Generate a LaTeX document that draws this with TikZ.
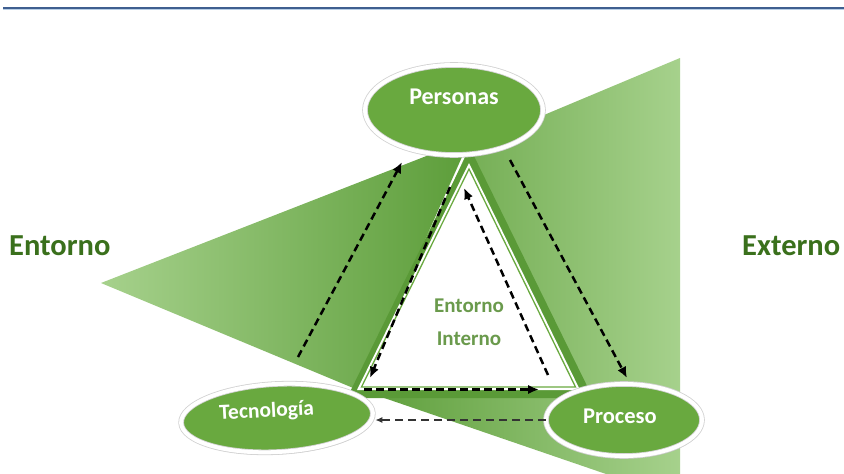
\documentclass[tikz,border=0pt]{standalone}
\usepackage{fontspec}
\setmainfont{Carlito}
\usetikzlibrary{arrows.meta,shapes.geometric,shadows}
\definecolor{fanlight}{HTML}{A6D18C}
\definecolor{fandark}{HTML}{5C9D39}
\definecolor{bandgreen}{HTML}{5A9A37}
\definecolor{ellgreen}{HTML}{69A93F}
\definecolor{outtext}{HTML}{3A701C}
\definecolor{intext}{HTML}{6A9A4C}
\definecolor{topblue}{HTML}{3F5F90}
\definecolor{topblue2}{HTML}{B9CFE6}
\tikzset{
  ellnode/.style={ellipse, draw=black!18, line width=0.8pt, double=white,
    double distance=4pt, fill=ellgreen, text=white, inner sep=0pt,
    drop shadow={shadow xshift=1pt, shadow yshift=-2.5pt, opacity=0.3, fill=black!60}},
  dasharrow/.style={line width=2.5pt, dash pattern=on 7.5pt off 4.5pt,
    -{Latex[length=11pt,width=9.5pt]}},
  thinarrow/.style={line width=1.5pt, draw=black!80, dash pattern=on 8pt off 5pt,
    -{Latex[length=7pt,width=6pt]}},
  outlabel/.style={font=\bfseries\fontsize{30.5}{36}\selectfont, text=outtext, inner sep=0pt},
}
\begin{document}
\begin{tikzpicture}[x=1pt,y=-1pt]
\clip (0,0) rectangle (844,474);
\fill[white] (0,0) rectangle (844,474);
% top rule
\draw[topblue2, line width=1.2pt] (3,9.6) -- (844,9.6);
\draw[topblue, line width=2pt] (3,7.5) -- (844,7.5);
% right fan
\shade[left color=fandark, right color=fanlight]
  (470,146) -- (680,58) -- (680,474) -- (606,474) -- (358,389) -- cycle;
% left fan
\shade[left color=fanlight, right color=fandark]
  (101,283) -- (470,139) -- (358,390) -- cycle;
% band around inner triangle
\fill[bandgreen] (470,148) -- (347,398) -- (593,398) -- cycle;
% inner triangle
\fill[white] (469,163) -- (357,390) -- (580,390) -- cycle;
\draw[ellgreen, line width=1.3pt] (469,169) -- (361.5,387) -- (575.5,387) -- cycle;
% ellipses
\node[ellnode, minimum width=178pt, minimum height=90pt,
  font=\bfseries\fontsize{24}{28}\selectfont, text height=8pt, text depth=18.5pt]
  (per) at (454,110) {Personas};
\node[ellnode, minimum width=192pt, minimum height=68pt, rotate=3,
  font=\bfseries\fontsize{21.5}{25}\selectfont, text height=10pt, text depth=12.5pt]
  (tec) at (277,418) {Tecnología\hspace*{20pt}};
\node[ellnode, minimum width=156pt, minimum height=72pt,
  font=\bfseries\fontsize{22.5}{26}\selectfont, text height=12pt, text depth=5pt]
  (pro) at (624,420) {Proceso\hspace*{8pt}};
% arrow end points
\coordinate (a1s) at (298,357);
\coordinate (a1e) at (402,162);
\coordinate (a2s) at (450,187);
\coordinate (a2e) at (370,378);
\coordinate (a3s) at (548,375);
\coordinate (a3e) at (464,188);
\coordinate (a4s) at (510,160);
\coordinate (a4e) at (627,378);
\coordinate (a5s) at (364,389.5);
\coordinate (a5e) at (539,389.5);
\draw[dasharrow] (a1s) -- (a1e);
\draw[dasharrow] (a2s) -- (a2e);
\draw[dasharrow] (a3s) -- (a3e);
\draw[dasharrow] (a4s) -- (a4e);
\draw[dasharrow] (a5s) -- (a5e);
\draw[thinarrow, shorten >=2pt] (pro.west) -- (pro.west -| tec.east);
% labels
\node[outlabel, anchor=base west] (lent) at (9,255) {Entorno};
\node[outlabel, anchor=base west] (lext) at (742,255) {Externo};
\node[font=\bfseries\fontsize{21}{33}\selectfont, text=intext, align=center, inner sep=0pt]
  (inner) at (469,322) {Entorno\\Interno};
\end{tikzpicture}
\end{document}
